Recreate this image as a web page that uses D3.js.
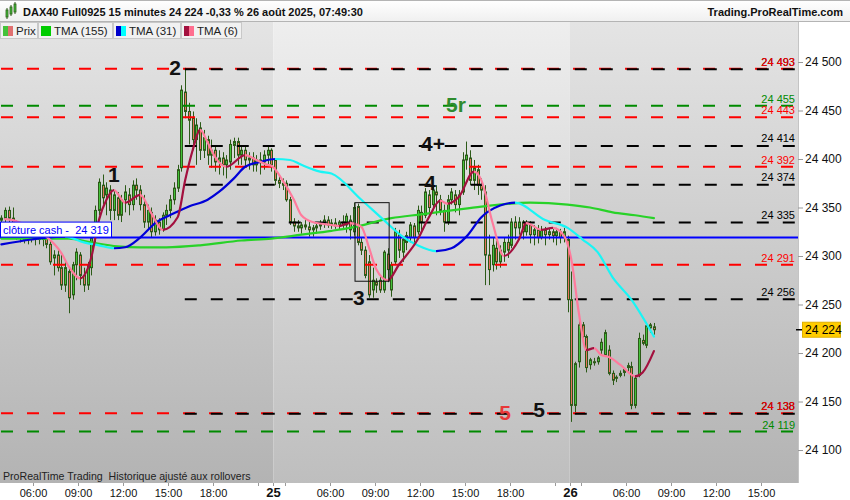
<!DOCTYPE html>
<html><head><meta charset="utf-8">
<script src="https://cdn.jsdelivr.net/npm/d3@7"></script>
<style>
body{margin:0;background:#fff}
svg{display:block;font-family:"Liberation Sans",Arial,Helvetica,sans-serif}
</style>
</head><body><div id="chart"></div>
<script>
// ---------- DATA ----------
const title = "DAX40 Full0925 15 minutes 24 224 -0,33 % 26 août 2025, 07:49:30";
const site = "Trading.ProRealTime.com";
const legendItems = ["Prix", "TMA (155)", "TMA (31)", "TMA (6)"];
const footer = "ProRealTime Trading  Historique ajusté aux rollovers";

// sessions: first bar index (02:15 bar), 79 bars of 15 min per session
const sessionStarts = [-6, 73, 152];
const sessionLabels = ["", "25", "26"];
const sessionOpen = "02:15";
const sessionBars = 79;
const timeTickLabels = ["06:00", "09:00", "12:00", "15:00", "18:00"];
const minorTickTimes = ["03:00", "21:00"];

const priceTicks = [24100, 24150, 24200, 24250, 24300, 24350, 24400, 24450, 24500];

// candles [open, high, low, close]; day 1 starts at 03:45 (bar 0)
const day1 = [
[24337,24342,24329,24339],[24339,24350,24332,24347],[24347,24351,24335,24339],[24339,24350,24329,24332],
[24332,24337,24317,24322],[24322,24332,24314,24327],[24327,24331,24313,24317],[24317,24329,24312,24325],
[24325,24332,24314,24319],[24319,24327,24311,24322],[24322,24327,24312,24317],[24317,24325,24310,24321],
[24321,24325,24308,24312],[24312,24319,24291,24294],[24298,24306,24280,24301],[24301,24306,24284,24288],
[24288,24301,24265,24270],[24270,24294,24263,24288],[24284,24288,24241,24257],[24260,24294,24255,24291],
[24291,24308,24275,24304],[24301,24304,24270,24280],[24280,24288,24263,24270],[24270,24294,24265,24291],
[24288,24325,24280,24319],[24319,24352,24314,24347],[24347,24380,24342,24376],[24373,24384,24353,24360],
[24363,24376,24342,24370],[24368,24373,24337,24347],[24347,24368,24337,24363],[24360,24366,24337,24342],
[24342,24363,24335,24358],[24358,24373,24345,24366],[24363,24370,24342,24353],[24353,24378,24347,24373],
[24373,24380,24358,24368],[24368,24373,24347,24353],[24353,24363,24329,24335],[24335,24353,24327,24347],
[24345,24350,24319,24325],[24325,24342,24321,24337],[24335,24339,24322,24327],[24327,24345,24325,24342],
[24342,24353,24332,24347],[24347,24363,24339,24358],[24358,24376,24353,24370],[24370,24394,24366,24389],
[24391,24476,24387,24471],[24469,24494,24442,24449],[24449,24458,24415,24440],[24442,24449,24409,24420],
[24420,24442,24394,24435],[24432,24438,24399,24409],[24409,24430,24401,24422],[24420,24424,24394,24404],
[24404,24420,24391,24409],[24409,24414,24387,24397],[24397,24409,24384,24401],[24401,24407,24383,24394],
[24394,24404,24380,24399],[24397,24420,24389,24415],[24414,24422,24401,24418],[24418,24422,24394,24404],
[24404,24414,24394,24409],[24409,24414,24391,24399],[24399,24407,24389,24401],[24401,24407,24387,24394],
[24394,24404,24387,24399],[24399,24407,24384,24397],[24397,24409,24389,24404],[24404,24414,24394,24409],
[24409,24411,24387,24394]
];
const day25 = [
[24399,24401,24373,24378],[24378,24383,24370,24375],[24375,24380,24368,24373],[24375,24378,24356,24358],
[24358,24361,24332,24335],[24335,24339,24325,24331],[24331,24337,24325,24329],[24329,24335,24323,24332],
[24332,24337,24327,24330],[24330,24335,24320,24327],[24327,24332,24320,24329],[24329,24335,24323,24331],
[24331,24337,24327,24333],[24333,24342,24329,24337],[24337,24341,24329,24332],[24332,24338,24328,24334],
[24334,24339,24328,24331],[24331,24337,24327,24335],[24335,24342,24329,24332],[24332,24344,24324,24341],
[24337,24342,24317,24327],[24325,24355,24321,24350],[24351,24354,24311,24314],[24314,24319,24301,24306],
[24306,24310,24277,24280],[24294,24301,24257,24260],[24265,24288,24257,24275],[24273,24277,24262,24270],
[24275,24279,24262,24265],[24265,24306,24262,24304],[24302,24308,24273,24286],[24265,24294,24258,24291],
[24294,24329,24291,24325],[24322,24327,24298,24306],[24304,24319,24294,24317],[24314,24325,24306,24321],
[24319,24335,24314,24332],[24331,24334,24311,24319],[24325,24352,24322,24347],[24345,24352,24325,24335],
[24342,24370,24339,24366],[24363,24368,24342,24350],[24353,24373,24347,24368],[24366,24373,24342,24363],
[24358,24363,24342,24347],[24347,24353,24325,24335],[24335,24363,24332,24358],[24358,24370,24353,24366],
[24363,24368,24345,24353],[24353,24368,24342,24363],[24366,24407,24363,24399],[24399,24418,24389,24404],
[24401,24409,24373,24378],[24378,24399,24368,24391],[24389,24394,24363,24373],[24373,24380,24358,24368],
[24366,24373,24270,24301],[24301,24322,24270,24286],[24291,24319,24284,24311],[24308,24316,24286,24294],
[24294,24311,24288,24306],[24304,24319,24294,24314],[24314,24322,24298,24306],[24311,24339,24308,24335],
[24335,24341,24317,24329],[24329,24340,24322,24335],[24335,24337,24317,24325],[24325,24337,24321,24332],
[24332,24336,24313,24322],[24322,24332,24311,24327],[24327,24332,24313,24319],[24319,24331,24317,24327],
[24327,24330,24311,24322],[24322,24329,24317,24325],[24325,24329,24314,24321],[24321,24329,24311,24325],
[24325,24328,24313,24319],[24319,24329,24314,24325],[24317,24321,24242,24255]
];
const day26 = [
[24255,24284,24129,24146],[24146,24191,24139,24189],[24191,24234,24185,24229],[24229,24232,24213,24217],
[24217,24219,24180,24185],[24188,24195,24183,24193],[24191,24195,24187,24190],[24191,24197,24188,24195],
[24203,24215,24198,24211],[24198,24224,24196,24221],[24203,24208,24177,24179],[24179,24182,24167,24172],
[24174,24177,24170,24175],[24177,24182,24175,24179],[24180,24184,24176,24183],[24185,24190,24180,24187],
[24186,24191,24142,24146],[24146,24177,24143,24174],[24177,24221,24175,24215],[24213,24219,24208,24210],
[24208,24232,24205,24228],[24226,24231,24221,24229],[24227,24231,24219,24224]
];

// moving averages: [bar index, value]
const tma155 = [[0,24318],[8,24318],[18,24318],[24,24314],[31,24310],[37,24309],[44,24309],[53,24311],
[64,24316],[72,24318],[80,24322],[88,24326],[93,24329],[104,24339],[112,24343],[120,24347],[128,24351],
[141,24355],[151,24353],[157,24350],[163,24345],[169,24342],[174,24339]];
const tma31 = [[0,24312],[8,24317],[12,24319],[17,24320],[22,24314],[26,24311],[30,24308],[33,24309],
[37,24319],[41,24334],[46,24344],[50,24351],[55,24358],[58,24366],[62,24380],[65,24392],[69,24397],
[73,24400],[77,24399],[80,24394],[85,24387],[88,24385],[96,24358],[102,24337],[107,24320],[111,24311],
[116,24305],[120,24308],[124,24320],[128,24340],[133,24352],[137,24355],[145,24337],[151,24329],
[155,24317],[159,24304],[163,24278],[168,24255],[174,24217]];
const tma6 = [[1,24338],[3,24337],[8,24329],[12,24320],[16,24303],[18,24289],[21,24277],[24,24299],
[26,24337],[28,24358],[30,24368],[33,24355],[37,24363],[40,24344],[43,24327],[47,24340],[49,24378],
[51,24409],[53,24430],[55,24417],[57,24402],[60,24392],[65,24404],[68,24399],[71,24394],[72,24393],
[75,24378],[78,24358],[80,24342],[83,24335],[88,24332],[90,24331],[93,24334],[96,24330],[98,24309],
[100,24286],[103,24275],[106,24291],[111,24317],[114,24340],[117,24357],[119,24354],[122,24361],
[126,24387],[128,24378],[131,24334],[134,24300],[138,24317],[140,24334],[144,24327],[147,24329],
[150,24321],[152,24296],[154,24241],[156,24203],[158,24205],[160,24198],[162,24196],[165,24188],
[169,24176],[171,24180],[174,24202]];

const cashClose = 24319;
const lastPrice = 24224;
const levelsColored = [
  {v:24493, c:"#ff0000"}, {v:24455, c:"#008a00"}, {v:24443, c:"#ff0000"}, {v:24392, c:"#ff0000"},
  {v:24291, c:"#ff0000"}, {v:24138, c:"#ff0000"}, {v:24119, c:"#008a00"}
];
const levelsBlack = [24493, 24414, 24374, 24335, 24256, 24138];
const blackStartBar = 48.9;

const annotations = [
  {t:"1", g:30, v:24376, c:"#111"}, {t:"2", g:46.3, v:24487, c:"#111"},
  {t:"3", g:95.3, v:24250, c:"#111"}, {t:"4", g:114.3, v:24368, c:"#111"},
  {t:"4+", g:115.1, v:24408, c:"#111"}, {t:"5r", g:121.2, v:24448, c:"#2e8b2e"},
  {t:"5", g:134.3, v:24131, c:"#e83838"}, {t:"5", g:143.4, v:24134, c:"#111"}
];
const boxBars = [94.3, 103.4];
const boxValues = [24355, 24274];

// ---------- CHART ----------
const W = 850, H = 500, plotR = 798, plotT = 22, plotB = 483;
const bars = [].concat(day1, day25, day26).map((d, i) => ({i, o:d[0], h:d[1], l:d[2], c:d[3]}));

const x = d3.scaleLinear().domain([0, 212]).range([1.4, 1.4 + 3.75 * 212]);
const y = d3.scaleLinear().domain([24066, 24541.24]).range([plotB, plotT]);

const svg = d3.select("#chart").append("svg").attr("width", W).attr("height", H);
const defs = svg.append("defs");

function vgrad(id, top, bot) {
  const g = defs.append("linearGradient").attr("id", id).attr("x1", 0).attr("y1", 0).attr("x2", 0).attr("y2", 1);
  g.append("stop").attr("offset", 0).attr("stop-color", top);
  g.append("stop").attr("offset", 1).attr("stop-color", bot);
}
vgrad("bgDark", "#e4e4e4", "#b3b3b3");
vgrad("bgLight", "#eeeeee", "#bebebe");
vgrad("hdr", "#ffffff", "#f0f0f0");

const bounds = [0, x(sessionStarts[1] - 0.5), x(sessionStarts[2] - 0.5), plotR];
for (let s = 0; s < 3; s++) {
  svg.append("rect").attr("x", bounds[s]).attr("y", plotT).attr("width", bounds[s + 1] - bounds[s])
    .attr("height", plotB - plotT).attr("fill", s === 1 ? "url(#bgLight)" : "url(#bgDark)");
}

const plot = svg.append("g");
const clip = defs.append("clipPath").attr("id", "pc");
clip.append("rect").attr("x", 0).attr("y", plotT).attr("width", plotR).attr("height", plotB - plotT);
plot.attr("clip-path", "url(#pc)");

// candles
const cg = plot.append("g");
bars.forEach(b => {
  const X = Math.round(x(b.i));
  cg.append("line").attr("x1", X + 0.5).attr("x2", X + 0.5).attr("y1", y(b.h)).attr("y2", y(b.l))
    .attr("stroke", "#2c5a18").attr("stroke-width", 1);
  const top = y(Math.max(b.o, b.c)), bot = y(Math.min(b.o, b.c));
  cg.append("rect").attr("x", X - 0.5).attr("y", top).attr("width", 2).attr("height", Math.max(1, bot - top))
    .attr("fill", b.c >= b.o ? "#44c23a" : "#e8735f").attr("stroke", "#2c5a18").attr("stroke-width", 1);
});

// levels
levelsColored.forEach(l => {
  plot.append("line").attr("x1", 0).attr("x2", plotR).attr("y1", y(l.v)).attr("y2", y(l.v))
    .attr("stroke", l.c).attr("stroke-width", 2).attr("stroke-dasharray", "12,14").attr("stroke-dashoffset", -1);
});
levelsBlack.forEach(v => {
  plot.append("line").attr("x1", x(blackStartBar)).attr("x2", plotR).attr("y1", y(v) + 0.5).attr("y2", y(v) + 0.5)
    .attr("stroke", "#000").attr("stroke-width", 2).attr("stroke-dasharray", "12,14");
});

// cash close line
plot.append("line").attr("x1", 0).attr("x2", plotR).attr("y1", y(cashClose)).attr("y2", y(cashClose))
  .attr("stroke", "#0000ff").attr("stroke-width", 2);

// moving averages with slope colouring via gradient
function maLine(data, id, upColor, downColor, width) {
  const g = defs.append("linearGradient").attr("id", id).attr("gradientUnits", "userSpaceOnUse")
    .attr("x1", 0).attr("x2", plotR).attr("y1", 0).attr("y2", 0);
  for (let k = 1; k < data.length; k++) {
    const col = data[k][1] >= data[k - 1][1] ? upColor : downColor;
    const off0 = x(data[k - 1][0]) / plotR, off1 = x(data[k][0]) / plotR;
    g.append("stop").attr("offset", Math.max(0, off0)).attr("stop-color", col);
    g.append("stop").attr("offset", Math.min(1, off1)).attr("stop-color", col);
  }
  const line = d3.line().x(d => x(d[0])).y(d => y(d[1])).curve(d3.curveMonotoneX);
  plot.append("path").attr("d", line(data)).attr("fill", "none").attr("stroke", `url(#${id})`)
    .attr("stroke-width", width).attr("stroke-linejoin", "round").attr("stroke-linecap", "round");
}
maLine(tma155, "g155", "#28d228", "#28d228", 2.2);
maLine(tma31, "g31", "#0000d8", "#19f5f5", 2.2);
maLine(tma6, "g6", "#a3103e", "#ff7b9c", 2.2);

// box
plot.append("rect").attr("x", x(boxBars[0])).attr("y", y(boxValues[0]))
  .attr("width", x(boxBars[1]) - x(boxBars[0])).attr("height", y(boxValues[1]) - y(boxValues[0]))
  .attr("fill", "none").attr("stroke", "#111").attr("stroke-width", 1);

// annotations
annotations.forEach(a => {
  svg.append("text").attr("x", x(a.g)).attr("y", y(a.v)).attr("text-anchor", "middle")
    .attr("font-size", 21).attr("font-weight", "bold").attr("fill", a.c).text(a.t);
});

// right-side level labels
const fmt = v => d3.format(",")(v).replace(/,/g, " ");
levelsBlack.forEach(v => {
  svg.append("text").attr("x", 795).attr("y", y(v) - 3).attr("text-anchor", "end").attr("font-size", 11)
    .attr("fill", "#000").text(fmt(v));
});
levelsColored.forEach(l => {
  svg.append("text").attr("x", 795).attr("y", y(l.v) - 3).attr("text-anchor", "end").attr("font-size", 11)
    .attr("fill", l.c).text(fmt(l.v));
});

// cash label
svg.append("rect").attr("x", 0.5).attr("y", y(cashClose) - 15.5).attr("width", 111).attr("height", 15)
  .attr("fill", "#fff").attr("stroke", "#0000ff").attr("stroke-width", 1);
svg.append("text").attr("x", 3).attr("y", y(cashClose) - 4).attr("font-size", 11).attr("fill", "#0000ff")
  .style("white-space", "pre").text("clôture cash -  " + fmt(cashClose));

// footer
svg.append("text").attr("x", 3).attr("y", 480).attr("font-size", 10.6).attr("fill", "#222")
  .style("white-space", "pre").text(footer);

// right axis
svg.append("rect").attr("x", plotR).attr("y", plotT).attr("width", W - plotR).attr("height", H - plotT).attr("fill", "#fff");
svg.append("rect").attr("x", 0).attr("y", plotB).attr("width", W).attr("height", H - plotB).attr("fill", "#fff");
svg.append("line").attr("x1", plotR + 0.5).attr("x2", plotR + 0.5).attr("y1", plotT).attr("y2", plotB).attr("stroke", "#c4c4c4");
const yAxis = d3.axisRight(y).tickValues(priceTicks).tickSize(5).tickFormat(fmt);
const ya = svg.append("g").attr("transform", `translate(${plotR},0)`).call(yAxis);
ya.select(".domain").remove();
ya.selectAll(".tick line").attr("stroke", "#999");
ya.selectAll(".tick text").attr("x", 7).attr("font-size", 12).attr("fill", "#111")
  .attr("font-family", '"Liberation Sans",Arial,sans-serif');

// last price marker
const yl = y(lastPrice);
svg.append("line").attr("x1", plotR - 2).attr("x2", plotR + 5).attr("y1", yl).attr("y2", yl).attr("stroke", "#000").attr("stroke-width", 1.5);
svg.append("rect").attr("x", 802.5).attr("y", yl - 7.5).attr("width", 38).attr("height", 15)
  .attr("fill", "#ffcc00").attr("stroke", "#e0b000");
svg.append("text").attr("x", 805).attr("y", yl + 4.5).attr("font-size", 12).attr("fill", "#000").text(fmt(lastPrice));

// x axis ticks
const toMin = t => +t.slice(0, 2) * 60 + +t.slice(3);
const openMin = toMin(sessionOpen);
const xa = svg.append("g");
sessionStarts.forEach((s, si) => {
  const items = [];
  if (sessionLabels[si]) items.push({off:0, label:sessionLabels[si], day:true});
  timeTickLabels.forEach(t => items.push({off:(toMin(t) - openMin) / 15, label:t}));
  minorTickTimes.forEach(t => items.push({off:(toMin(t) - openMin) / 15, label:""}));
  items.forEach(it => {
    const gx = x(s + it.off - 0.5);
    if (gx < 2 || gx > plotR - 2) return;
    const X = Math.round(gx) + 0.5;
    xa.append("line").attr("x1", X).attr("x2", X).attr("y1", plotB).attr("y2", plotB + 3).attr("stroke", "#999");
    if (it.label) {
      xa.append("text").attr("x", X).attr("y", 497).attr("text-anchor", "middle")
        .attr("font-size", it.day ? 13 : 11).attr("font-weight", it.day ? "bold" : "normal")
        .attr("fill", "#111").text(it.label);
    }
  });
});

// header
svg.append("rect").attr("x", 0).attr("y", 0).attr("width", W).attr("height", 21).attr("fill", "url(#hdr)");
svg.append("line").attr("x1", 0).attr("x2", W).attr("y1", 0.5).attr("y2", 0.5).attr("stroke", "#b4b4b4");
svg.append("line").attr("x1", 0).attr("x2", W).attr("y1", 21.5).attr("y2", 21.5).attr("stroke", "#b4b4b4");
[[6, 10, 17], [10, 7, 14], [14, 4, 12]].forEach(c => {
  svg.append("line").attr("x1", c[0] + 1).attr("x2", c[0] + 1).attr("y1", c[1] - 2).attr("y2", c[2] + 2).attr("stroke", "#2c5a18");
  svg.append("rect").attr("x", c[0]).attr("y", c[1]).attr("width", 2).attr("height", c[2] - c[1]).attr("fill", "#44c23a").attr("stroke", "#2c5a18").attr("stroke-width", 0.8);
});
svg.append("text").attr("x", 23).attr("y", 15.5).attr("font-size", 11).attr("font-weight", "bold").attr("fill", "#111").text(title);
svg.append("text").attr("x", 843).attr("y", 15.5).attr("text-anchor", "end").attr("font-size", 11).attr("font-weight", "bold").attr("fill", "#111").text(site);

// legend boxes
const legendX = [0, 38, 113, 181, 242];
const legendColors = [["#44c23a", "#e07070"], ["#00cc00", "#00cc00"], ["#0000cc", "#00ffff"], ["#a3103e", "#ff6f8f"]];
legendItems.forEach((t, i) => {
  svg.append("rect").attr("x", legendX[i] + 0.5).attr("y", 22.5).attr("width", legendX[i + 1] - legendX[i] - 1).attr("height", 16)
    .attr("fill", "#f1f1f1").attr("stroke", "#c8c8c8");
  svg.append("rect").attr("x", legendX[i] + 3).attr("y", 26).attr("width", 5).attr("height", 10).attr("fill", legendColors[i][0]);
  svg.append("rect").attr("x", legendX[i] + 8).attr("y", 26).attr("width", 5).attr("height", 10).attr("fill", legendColors[i][1]);
  svg.append("text").attr("x", legendX[i] + 16).attr("y", 35).attr("font-size", 11.5).attr("fill", "#222").text(t);
});
</script>
</body></html>
